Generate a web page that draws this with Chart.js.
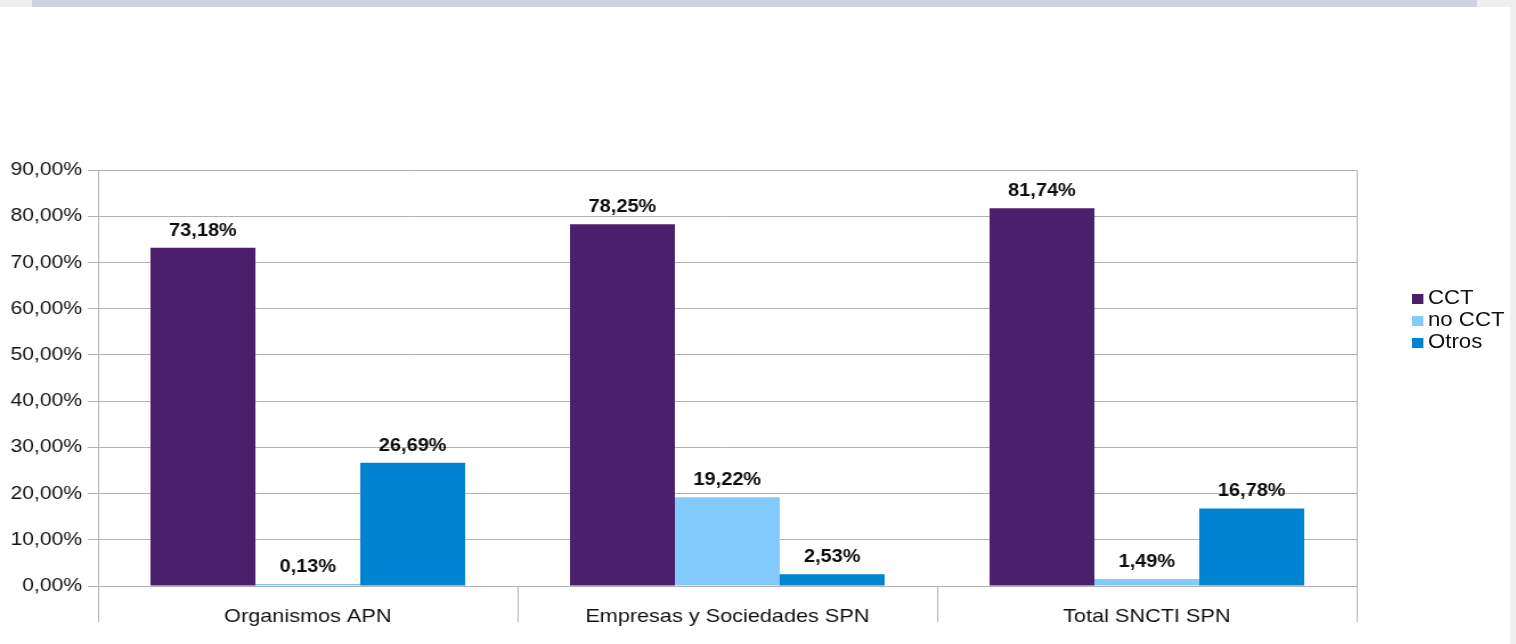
<!DOCTYPE html>
<html lang="es">
<head>
    <meta charset="UTF-8">
    <title>CCT / no CCT / Otros</title>
    <script src="https://cdn.jsdelivr.net/npm/chart.js"></script>
    <style>
        html, body { margin: 0; padding: 0; background: #efefef; }
        body { width: 1516px; height: 644px; position: relative; overflow: hidden; font-family: "Liberation Sans", Arial, sans-serif; }
        .topband { position: absolute; left: 32px; top: 0; width: 1445px; height: 7px; background: #cfd3e0; }
        .page { position: absolute; left: 0; top: 7px; width: 1510px; height: 637px; background: #fff; }
        #chartBox { position: absolute; left: 0; top: 8px; transform: scaleX(1.14); transform-origin: 0 0; }
        #legend { position: absolute; left: 1412px; top: 286px; transform: scaleX(1.14); transform-origin: 0 0; font-size: 19.5px; color: #111; }
        #legend div { height: 22px; line-height: 22px; white-space: nowrap; }
        #legend span { display: inline-block; width: 10px; height: 10px; margin-right: 4px; vertical-align: 0px; }
    </style>
</head>
<body>
    <div class="topband"></div>
    <div class="page"></div>
    <div id="chartBox"><canvas id="chart" width="1325" height="622"></canvas></div>
    <div id="legend"></div>
    <script>
        const categories = ['Organismos APN', 'Empresas y Sociedades SPN', 'Total SNCTI SPN'];
        const seriesNames = ['CCT', 'no CCT', 'Otros'];
        const cctValues = [73.18, 78.25, 81.74];
        const noCctValues = [0.13, 19.22, 1.49];
        const otrosValues = [26.69, 2.53, 16.78];
        const yTicks = [0, 10, 20, 30, 40, 50, 60, 70, 80, 90];
        const colors = ['#4b1f6b', '#83caff', '#0084d1'];

        const fmt = v => v.toFixed(2).replace('.', ',') + '%';
        const font = '"Liberation Sans", Arial, sans-serif';

        const datasets = [cctValues, noCctValues, otrosValues].map((vals, i) => ({
            label: seriesNames[i],
            data: vals,
            backgroundColor: colors[i],
            borderWidth: 0,
            minBarLength: 2,
            categoryPercentage: 0.75,
            barPercentage: 1.0
        }));

        // value labels above each bar, comma decimals like the original
        const valueLabels = {
            id: 'valueLabels',
            afterDatasetsDraw(chart) {
                const ctx = chart.ctx;
                ctx.save();
                ctx.font = 'bold 17.5px ' + font;
                ctx.fillStyle = '#0d0d0d';
                ctx.textAlign = 'center';
                ctx.textBaseline = 'alphabetic';
                chart.data.datasets.forEach((ds, i) => {
                    chart.getDatasetMeta(i).data.forEach((bar, j) => {
                        ctx.fillText(fmt(ds.data[j]), bar.x, bar.y - 12);
                    });
                });
                ctx.restore();
            }
        };

        new Chart(document.getElementById('chart'), {
            type: 'bar',
            data: { labels: categories, datasets: datasets },
            options: {
                responsive: false,
                animation: false,
                layout: { padding: { top: 162, right: 135, left: 0, bottom: 0 } },
                plugins: { legend: { display: false }, tooltip: { enabled: false } },
                scales: {
                    x: {
                        offset: true,
                        afterFit: s => { s.height = 44; },
                        grid: { offset: true, drawOnChartArea: false, drawTicks: true, tickLength: 36, color: '#b3b3b3' },
                        border: { color: '#b3b3b3' },
                        ticks: { padding: -17, color: '#111', font: { family: font, size: 19 } }
                    },
                    y: {
                        min: 0,
                        max: 90,
                        afterFit: s => { s.width = 86; },
                        afterBuildTicks: s => { s.ticks = yTicks.map(v => ({ value: v })); },
                        grid: { color: '#b3b3b3', tickLength: 9 },
                        border: { color: '#b3b3b3' },
                        ticks: { padding: 5, color: '#111', font: { family: font, size: 18.5 }, callback: v => fmt(v) }
                    },
                    y2: {
                        position: 'right',
                        min: 0,
                        max: 90,
                        afterFit: s => { s.width = 0; },
                        grid: { drawOnChartArea: false, drawTicks: false },
                        border: { color: '#b3b3b3' },
                        ticks: { display: false }
                    }
                }
            },
            plugins: [valueLabels]
        });

        const legend = document.getElementById('legend');
        seriesNames.forEach((name, i) => {
            const row = document.createElement('div');
            const sw = document.createElement('span');
            sw.style.background = colors[i];
            row.appendChild(sw);
            row.appendChild(document.createTextNode(name));
            legend.appendChild(row);
        });
    </script>
</body>
</html>
